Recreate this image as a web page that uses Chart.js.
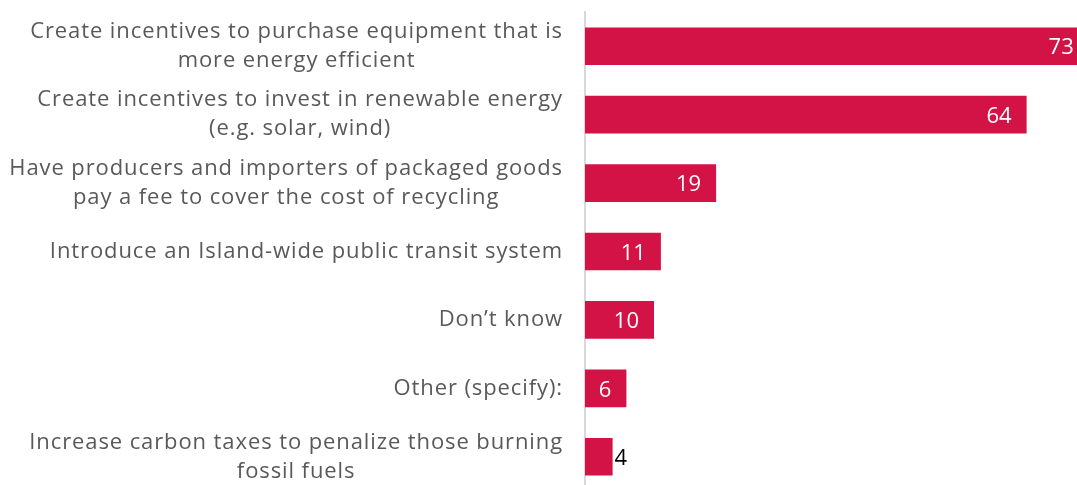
<!DOCTYPE html>
<html>
<head>
<meta charset="utf-8">
<script src="https://cdn.jsdelivr.net/npm/chart.js@4/dist/chart.umd.min.js"></script>
<style>
  html, body { margin: 0; padding: 0; background: #fff; overflow: hidden; }
  #wrap { width: 1077px; height: 491px; }
</style>
</head>
<body>
<div id="wrap"><canvas id="barChart"></canvas></div>
<script>
const categories = [
  ['Create incentives to purchase equipment that is', 'more energy efficient'],
  ['Create incentives to invest in renewable energy', '(e.g. solar, wind)'],
  ['Have producers and importers of packaged goods', 'pay a fee to cover the cost of recycling'],
  ['Introduce an Island-wide public transit system'],
  ['Don\u2019t know'],
  ['Other (specify):'],
  ['Increase carbon taxes to penalize those burning', 'fossil fuels']
];
const values = [73, 64, 19, 11, 10, 6, 4];

const labelFont = '22px "Open Sans", sans-serif';

// category labels: lines centred on each other, block right-aligned to the axis
const catLabels = {
  id: 'catLabels',
  afterDraw(chart) {
    const ctx = chart.ctx;
    const y = chart.scales.y;
    ctx.save();
    ctx.font = labelFont;
    ctx.letterSpacing = '0.9px';
    ctx.fillStyle = '#595959';
    ctx.textAlign = 'center';
    ctx.textBaseline = 'middle';
    const lineH = 29;
    categories.forEach((lines, i) => {
      const w = Math.max(...lines.map(l => ctx.measureText(l).width));
      const cx = 563 - w / 2;
      const cy = y.getPixelForValue(i);
      lines.forEach((l, k) => {
        ctx.fillText(l, cx, cy + (k - (lines.length - 1) / 2) * lineH);
      });
    });
    ctx.restore();
  }
};

// value labels at bar end
const valueLabels = {
  id: 'valueLabels',
  afterDraw(chart) {
    const ctx = chart.ctx;
    const meta = chart.getDatasetMeta(0);
    ctx.save();
    ctx.font = labelFont;
    ctx.textBaseline = 'middle';
    meta.data.forEach((bar, i) => {
      const v = values[i];
      if (v < 5) {
        ctx.fillStyle = '#000';
        ctx.textAlign = 'left';
        ctx.fillText(String(v), bar.x + 2, bar.y + 2);
      } else {
        ctx.fillStyle = '#fff';
        ctx.textAlign = 'right';
        ctx.fillText(String(v), bar.x - 15, bar.y + 2);
      }
    });
    ctx.restore();
  }
};

const barChart = new Chart(document.getElementById('barChart').getContext('2d'), {
  type: 'bar',
  data: {
    labels: categories,
    datasets: [{
      data: values,
      backgroundColor: '#d31245',
      barPercentage: 0.55,
      categoryPercentage: 1.0
    }]
  },
  options: {
    indexAxis: 'y',
    responsive: true,
    maintainAspectRatio: false,
    animation: false,
    layout: {
      padding: { left: 585, top: 12, right: 0, bottom: 0 }
    },
    plugins: {
      legend: { display: false },
      tooltip: { enabled: false }
    },
    scales: {
      x: {
        display: false,
        min: 0,
        max: 71.3
      },
      y: {
        ticks: { display: false },
        grid: { display: false, drawTicks: false },
        border: { display: true, color: '#d9d9d9', width: 2 }
      }
    }
  },
  plugins: [catLabels, valueLabels]
});
</script>
</body>
</html>
